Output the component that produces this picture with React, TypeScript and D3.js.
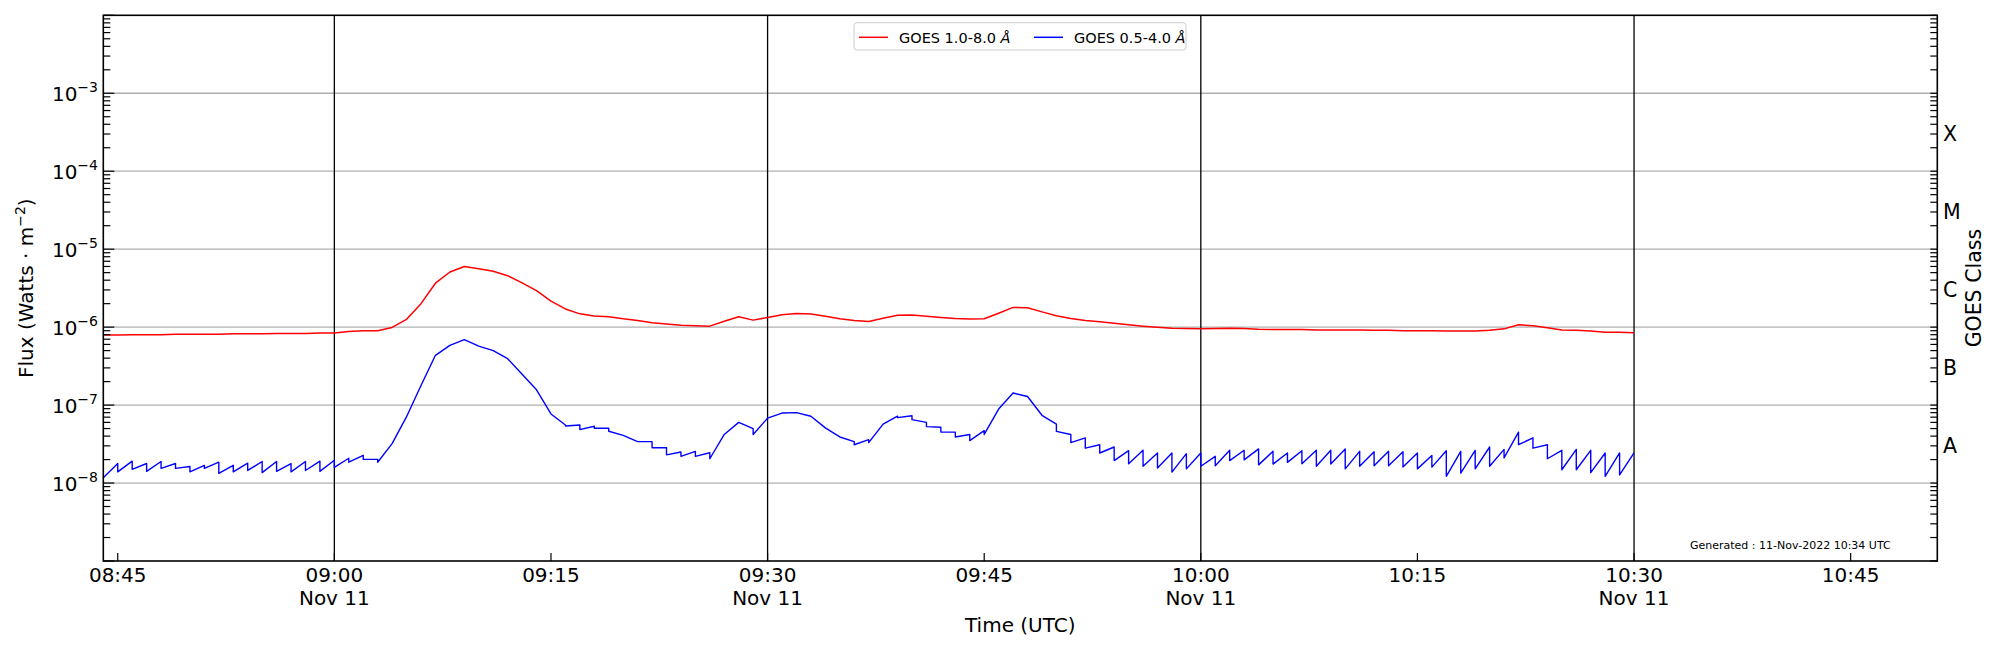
import { useEffect, useRef } from 'react';
import * as d3 from 'd3';

// one sample per minute starting 08:44 UTC, 11 Nov 2022
const DAY = [2022, 10, 11];
const START_TIME = '08:44';
const END_TIME = '10:51';

// GOES 1.0-8.0 A flux, units of 1e-7 W/m^2, minutes 08:44 .. 10:30
const longFlux = [
  7.9, 7.9, 8.0, 8.0, 8.0, 8.1, 8.1, 8.1, 8.1, 8.2, 8.2, 8.2, 8.3, 8.3, 8.3, 8.4,
  8.4, 8.8, 9.0, 9.0, 9.9, 12.6, 20, 36.6, 51, 60, 56, 52, 45.7, 37, 29.4, 21.6,
  17.1, 14.8, 13.9, 13.6, 12.8, 12.2, 11.4, 11.0, 10.6, 10.4, 10.3, 11.9, 13.6, 12.3, 13.3, 14.4,
  15.0, 14.7, 13.8, 12.8, 12.2, 11.8, 13.0, 14.2, 14.3, 13.8, 13.3, 12.9, 12.7, 12.8, 15.1, 17.9,
  17.7, 15.7, 14.0, 12.9, 12.2, 11.7, 11.2, 10.7, 10.3, 10.0, 9.7, 9.6, 9.5, 9.6, 9.7, 9.6,
  9.4, 9.3, 9.3, 9.3, 9.2, 9.2, 9.2, 9.2, 9.1, 9.1, 9.0, 9.0, 9.0, 8.9, 8.9, 8.9,
  9.1, 9.5, 10.7, 10.4, 9.8, 9.2, 9.1, 8.9, 8.6, 8.6, 8.5,
];

// GOES 0.5-4.0 A flux, units of 1e-8 W/m^2
// value just after each minute's reset, and just before the next minute
const shortStart = [
  1.17, 1.39, 1.5, 1.41, 1.54, 1.54, 1.39, 1.54, 1.33, 1.39, 1.45, 1.36, 1.41, 1.39, 1.45, 1.41,
  1.59, 1.85, 2.01, 1.85, 3.2, 7.1, 17.8, 43.5, 58.3, 69, 57, 50, 39.4, 24.8, 15.7, 7.7,
  5.4, 4.85, 5.04, 4.62, 4.09, 3.4, 2.83, 2.3, 2.2, 2.2, 2.05, 4.2, 6.0, 4.2, 6.8, 7.9,
  8.0, 7.2, 5.1, 3.9, 3.1, 3.3, 5.7, 6.9, 6.5, 5.3, 4.5, 3.9, 3.5, 4.2, 8.9, 14.3,
  12.9, 7.4, 4.6, 3.3, 2.8, 2.43, 1.94, 1.77, 1.64, 1.56, 1.38, 1.52, 1.64, 1.67, 1.94, 1.98,
  1.71, 1.75, 1.84, 1.77, 1.64, 1.75, 1.52, 1.64, 1.67, 1.67, 1.61, 1.52, 1.6, 1.22, 1.34, 1.52,
  1.64, 2.1, 3.1, 2.8, 2.05, 1.48, 1.48, 1.36, 1.22, 1.27,
];
const shortEnd = [
  1.78, 1.91, 1.78, 1.89, 1.78, 1.63, 1.69, 1.85, 1.69, 1.8, 1.89, 1.89, 1.78, 1.89, 1.91, 1.96,
  2.08, 2.27, 2.01, 3.2, 7.1, 17.8, 43.5, 58.3, 69, 57, 50, 39.4, 24.8, 15.7, 7.7, 5.55,
  5.55, 5.35, 5.04, 4.09, 3.4, 3.4, 2.83, 2.5, 2.55, 2.45, 4.2, 6.0, 5.0, 6.8, 7.9, 8.0,
  7.2, 5.1, 3.9, 3.4, 3.6, 5.7, 7.2, 7.3, 6.0, 5.2, 4.5, 4.2, 4.7, 8.9, 14.3, 12.9,
  7.4, 5.7, 4.2, 3.8, 3.1, 2.9, 2.6, 2.63, 2.43, 2.43, 2.38, 2.43, 2.2, 2.63, 2.63, 2.74,
  2.55, 2.43, 2.6, 2.63, 2.63, 2.74, 2.55, 2.52, 2.55, 2.52, 2.43, 2.25, 2.6, 2.55, 2.63, 2.9,
  2.7, 4.5, 3.8, 3.1, 2.63, 2.7, 2.63, 2.43, 2.43, 2.43,
];

const xTicks = ['08:45', '09:00', '09:15', '09:30', '09:45', '10:00', '10:15', '10:30', '10:45'];
const markedTimes = ['09:00', '09:30', '10:00', '10:30'];
const dateLabel = 'Nov 11';
const yExponents = [-3, -4, -5, -6, -7, -8];
const goesClasses = ['A', 'B', 'C', 'M', 'X'];
const classLevels = [3e-8, 3e-7, 3e-6, 3e-5, 3e-4];
const legendItems = [
  { label: 'GOES 1.0-8.0 ', color: '#ff0000' },
  { label: 'GOES 0.5-4.0 ', color: '#0000ff' },
];
const generated = 'Generated : 11-Nov-2022 10:34 UTC';

const toDate = (hm: string) => {
  const [h, m] = hm.split(':').map(Number);
  return new Date(Date.UTC(DAY[0], DAY[1], DAY[2], h, m));
};
const minuteDate = (i: number) => new Date(toDate(START_TIME).getTime() + i * 60000);

export default function App() {
  const svgRef = useRef<SVGSVGElement>(null);

  useEffect(() => {
    document.body.style.margin = '0';
    if (!svgRef.current) return;
    const svg = d3.select(svgRef.current);
    svg.selectAll('*').remove();

    const font = 'DejaVu Sans, sans-serif';
    const left = 103.3, right = 1937.3, top = 15.3, bottom = 561;

    const x = d3.scaleUtc().domain([toDate(START_TIME), toDate(END_TIME)]).range([left, right]);
    const y = d3.scaleLog().domain([1e-9, 1e-2]).range([bottom, top]);

    // horizontal grid at decades
    svg.append('g')
      .selectAll('line')
      .data(yExponents)
      .join('line')
      .attr('x1', left).attr('x2', right)
      .attr('y1', (e) => y(Math.pow(10, e))).attr('y2', (e) => y(Math.pow(10, e)))
      .attr('stroke', '#b0b0b0').attr('stroke-width', 1.3);

    // vertical markers
    svg.append('g')
      .selectAll('line')
      .data(markedTimes)
      .join('line')
      .attr('x1', (t) => x(toDate(t))).attr('x2', (t) => x(toDate(t)))
      .attr('y1', top).attr('y2', bottom)
      .attr('stroke', '#000').attr('stroke-width', 1.3);

    // data
    const redPts = longFlux.map((v, i) => [minuteDate(i), v * 1e-7] as [Date, number]);
    const bluePts: [Date, number][] = [];
    shortStart.forEach((v, i) => {
      bluePts.push([minuteDate(i), v * 1e-8]);
      bluePts.push([minuteDate(i + 1), shortEnd[i] * 1e-8]);
    });
    const line = d3.line<[Date, number]>().x((d) => x(d[0])).y((d) => y(d[1]));

    svg.append('path').attr('d', line(bluePts)).attr('fill', 'none')
      .attr('stroke', '#0000ff').attr('stroke-width', 1.4).attr('stroke-linejoin', 'round');
    svg.append('path').attr('d', line(redPts)).attr('fill', 'none')
      .attr('stroke', '#ff0000').attr('stroke-width', 1.5).attr('stroke-linejoin', 'round');

    // log ticks, both sides, pointing inward
    const logTicks: { v: number; major: boolean }[] = [];
    for (let e = -9; e <= -2; e++) {
      for (let k = 1; k <= 9; k++) {
        const v = k * Math.pow(10, e);
        if (v > 1e-2 * 1.0001) continue;
        logTicks.push({ v, major: k === 1 });
      }
    }
    const ticks = svg.append('g').attr('stroke', '#000').attr('stroke-width', 1.2);
    ticks.selectAll('line.l')
      .data(logTicks)
      .join('line')
      .attr('class', 'l')
      .attr('x1', left).attr('x2', (d) => left + (d.major ? 11 : 7))
      .attr('y1', (d) => y(d.v)).attr('y2', (d) => y(d.v));
    ticks.selectAll('line.r')
      .data(logTicks)
      .join('line')
      .attr('class', 'r')
      .attr('x1', right).attr('x2', right - 7)
      .attr('y1', (d) => y(d.v)).attr('y2', (d) => y(d.v));
    ticks.selectAll('line.b')
      .data(xTicks)
      .join('line')
      .attr('class', 'b')
      .attr('x1', (t) => x(toDate(t))).attr('x2', (t) => x(toDate(t)))
      .attr('y1', bottom).attr('y2', bottom - 8);

    // frame
    svg.append('rect')
      .attr('x', left).attr('y', top)
      .attr('width', right - left).attr('height', bottom - top)
      .attr('fill', 'none').attr('stroke', '#000').attr('stroke-width', 1.6);

    // y tick labels
    const yl = svg.append('g').attr('font-family', font).attr('fill', '#000');
    yExponents.forEach((e) => {
      const t = yl.append('text')
        .attr('x', 98).attr('y', y(Math.pow(10, e)) + 7.5)
        .attr('text-anchor', 'end').attr('font-size', 20);
      t.append('tspan').text('10');
      t.append('tspan').attr('font-size', 14).attr('dy', -9).text(`\u2212${-e}`);
    });

    // x tick labels
    const xl = svg.append('g').attr('font-family', font).attr('font-size', 20)
      .attr('text-anchor', 'middle').attr('fill', '#000');
    xTicks.forEach((t) => {
      xl.append('text').attr('x', x(toDate(t))).attr('y', 582).text(t);
      if (markedTimes.includes(t)) {
        xl.append('text').attr('x', x(toDate(t))).attr('y', 605).text(dateLabel);
      }
    });

    // axis titles
    svg.append('text')
      .attr('x', (left + right) / 2).attr('y', 632)
      .attr('text-anchor', 'middle').attr('font-family', font).attr('font-size', 20)
      .text('Time (UTC)');

    const yt = svg.append('text')
      .attr('transform', `translate(33, ${(top + bottom) / 2}) rotate(-90)`)
      .attr('text-anchor', 'middle').attr('font-family', font).attr('font-size', 20);
    yt.append('tspan').text('Flux (Watts \u00b7 m');
    yt.append('tspan').attr('font-size', 14).attr('dy', -8).text('\u22122');
    yt.append('tspan').attr('dy', 8).text(')');

    // GOES class labels on the right
    svg.append('g')
      .selectAll('text')
      .data(goesClasses)
      .join('text')
      .attr('x', 1943).attr('y', (_, i) => y(classLevels[i]) + 7.3)
      .attr('font-family', font).attr('font-size', 20.5)
      .text((d) => d);
    svg.append('text')
      .attr('transform', `translate(1981, ${(top + bottom) / 2}) rotate(-90)`)
      .attr('text-anchor', 'middle').attr('font-family', font).attr('font-size', 20.5)
      .text('GOES Class');

    // legend
    const lg = svg.append('g').attr('font-family', font).attr('font-size', 14.5);
    lg.append('rect')
      .attr('x', 854).attr('y', 22.7).attr('width', 332).attr('height', 27.3)
      .attr('rx', 3).attr('fill', '#fff').attr('fill-opacity', 0.8)
      .attr('stroke', '#cccccc').attr('stroke-width', 1);
    legendItems.forEach((d, i) => {
      const x0 = 859 + i * 175;
      lg.append('line')
        .attr('x1', x0).attr('x2', x0 + 29).attr('y1', 37.3).attr('y2', 37.3)
        .attr('stroke', d.color).attr('stroke-width', 1.5);
      const t = lg.append('text').attr('x', x0 + 40).attr('y', 42.5);
      t.append('tspan').text(d.label);
      t.append('tspan').attr('font-style', 'italic').text('\u00c5');
    });

    svg.append('text')
      .attr('x', 1690).attr('y', 549)
      .attr('font-family', font).attr('font-size', 11)
      .text(generated);
  }, []);

  return (
    <div>
      <svg ref={svgRef} width={2000} height={650} style={{ display: 'block', background: '#fff' }} />
    </div>
  );
}
